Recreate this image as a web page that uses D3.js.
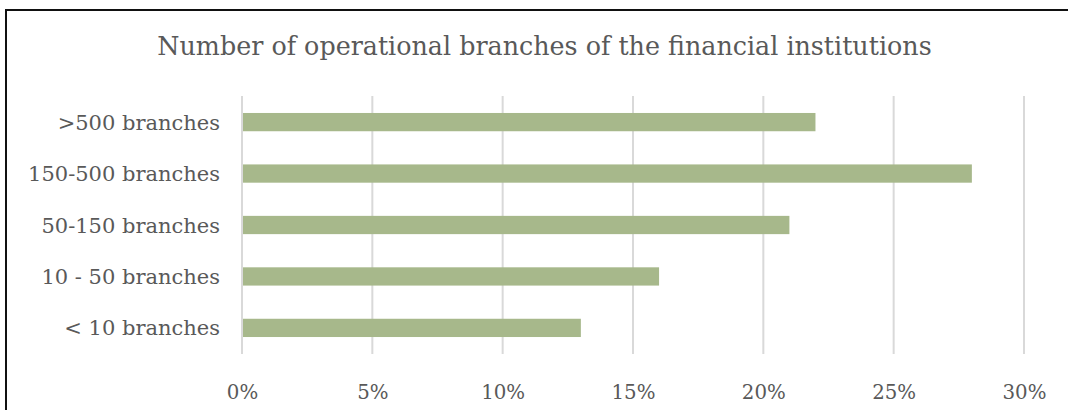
<!DOCTYPE html>
<html>
<head>
<meta charset="utf-8">
<script src="https://cdn.jsdelivr.net/npm/d3@7"></script>
<style>
  body { margin: 0; background: #fff; }
  text { font-family: "DejaVu Serif", "Liberation Serif", serif; fill: #595959; }
</style>
</head>
<body>
<svg id="chart" width="1068" height="410"></svg>
<script>
// Chart data, top to bottom
var categories = [">500 branches", "150-500 branches", "50-150 branches", "10 - 50 branches", "< 10 branches"];
var shares = [0.22, 0.28, 0.21, 0.16, 0.13];
var tickValues = [0, 0.05, 0.10, 0.15, 0.20, 0.25, 0.30];
var title = "Number of operational branches of the financial institutions";

var width = 1068, height = 410;
var plotTop = 96, plotBottom = 354;
var svg = d3.select("#chart");

// shrink or grow a text's font size until it fills the wanted width
function fitText(sel, target) {
    var w = sel.node().getComputedTextLength();
    var fs = parseFloat(sel.attr("font-size"));
    return fs * target / w;
}

svg.append("rect").attr("width", width).attr("height", height).attr("fill", "#fff");

// frame (only top and left edges are visible in the picture)
svg.append("path")
    .attr("d", "M6," + height + "V10H" + width)
    .attr("fill", "none")
    .attr("stroke", "#111")
    .attr("stroke-width", 2);

var x = d3.scaleLinear().domain([0, 0.30]).range([242, 1024]);
var y = d3.scaleBand().domain(categories).range([plotTop, plotBottom]).paddingInner(0.645).paddingOuter(0.33);

// gridlines
svg.append("g")
    .selectAll("line")
    .data(tickValues)
    .enter()
    .append("line")
    .attr("x1", function (d) { return x(d); })
    .attr("x2", function (d) { return x(d); })
    .attr("y1", plotTop)
    .attr("y2", plotBottom)
    .attr("stroke", "#d9d9d9")
    .attr("stroke-width", 2);

// bars
svg.append("g")
    .selectAll("rect")
    .data(shares)
    .enter()
    .append("rect")
    .attr("x", x(0) + 1)
    .attr("y", function (d, i) { return y(categories[i]); })
    .attr("width", function (d) { return x(d) - x(0) - 1; })
    .attr("height", y.bandwidth())
    .attr("fill", "#a7b88b");

// title
var t = svg.append("text")
    .attr("x", 544.5)
    .attr("y", 55)
    .attr("text-anchor", "middle")
    .attr("font-size", 24)
    .text(title);
t.attr("font-size", fitText(t, 775));

// category labels
var yAxis = svg.append("g")
    .attr("transform", "translate(220,0)")
    .call(d3.axisLeft(y).tickSize(0).tickPadding(0));
yAxis.select(".domain").remove();
yAxis.selectAll("text")
    .attr("fill", "#595959")
    .attr("font-size", 22)
    .attr("dy", "0.36em");
var ref = yAxis.selectAll("text").filter(function (d) { return d === "150-500 branches"; });
yAxis.selectAll("text").attr("font-size", fitText(ref, 192));

// percentage labels
var xAxis = svg.append("g")
    .attr("transform", "translate(0,399)")
    .call(d3.axisBottom(x).tickValues(tickValues).tickFormat(d3.format(".0%")).tickSize(0).tickPadding(0));
xAxis.select(".domain").remove();
xAxis.selectAll("text")
    .attr("fill", "#595959")
    .attr("font-size", 20)
    .attr("dy", 0);
var ref2 = xAxis.selectAll("text").filter(function (d) { return d === 0.30; });
xAxis.selectAll("text").attr("font-size", fitText(ref2, 44));

// let the css font family apply to axis text
svg.selectAll("g").attr("font-family", null).attr("font-size", null);
</script>
</body>
</html>
